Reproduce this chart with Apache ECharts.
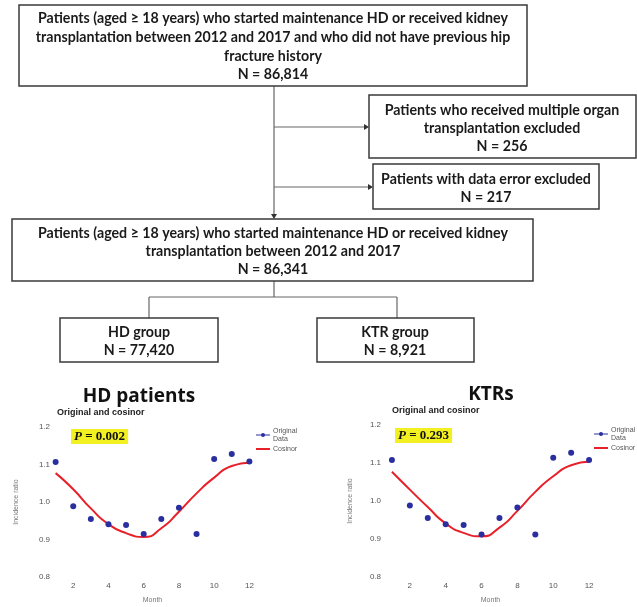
<!DOCTYPE html>
<html>
<head>
<meta charset="utf-8">
<script src="https://cdn.jsdelivr.net/npm/echarts@6/dist/echarts.min.js"></script>
<style>html,body{margin:0;padding:0;background:#fff;}#c{width:637px;height:607px;}</style>
</head>
<body>
<div id="c"></div>
<script>
// ---------- data ----------
const months = [1,2,3,4,5,6,7,8,9,10,11,12];
const xTicks = [2,4,6,8,10,12];
const yTicks = [0.8,0.9,1.0,1.1,1.2];
const hdObserved = [1.107,0.989,0.955,0.941,0.939,0.915,0.955,0.985,0.915,1.115,1.128,1.108];
const hdCosinor  = [1.077,1.034,0.983,0.941,0.917,0.907,0.930,0.974,1.023,1.065,1.096,1.105];
const ktrObserved = [1.108,0.988,0.955,0.939,0.937,0.912,0.955,0.983,0.912,1.114,1.127,1.108];
const ktrCosinor  = [1.077,1.030,0.984,0.941,0.916,0.907,0.930,0.974,1.024,1.065,1.094,1.103];
const chartTitles = ['HD patients','KTRs'];
const pValues = ['0.002','0.293'];
const flowTop = ['Patients (aged \u2265 18 years) who started maintenance HD or received kidney','transplantation between 2012 and 2017 and who did not have previous hip','fracture history','N = 86,814'];
const flowEx1 = ['Patients who received multiple organ','transplantation excluded','N = 256'];
const flowEx2 = ['Patients with data error excluded','N = 217'];
const flowMid = ['Patients (aged \u2265 18 years) who started maintenance HD or received kidney','transplantation between 2012 and 2017','N = 86,341'];
const flowHD = ['HD group','N = 77,420'];
const flowKTR = ['KTR group','N = 8,921'];

// ---------- layout helpers ----------
const FONT = 'bold 15px Lato';
const cv = document.createElement('canvas').getContext('2d');
cv.font = FONT;
const SX = 470 / cv.measureText(flowTop[0]).width;
const STROKE = '#3a3a3a';
function rect(x1,y1,x2,y2){return {type:'rect',shape:{x:x1,y:y1,width:x2-x1,height:y2-y1},style:{fill:'#fff',stroke:STROKE,lineWidth:1.5}};}
function seg(x1,y1,x2,y2){return {type:'line',shape:{x1:x1,y1:y1,x2:x2,y2:y2},style:{stroke:'#666',lineWidth:1.2}};}
function arrowDown(x,y){return {type:'polygon',shape:{points:[[x-3,y-5],[x+3,y-5],[x,y]]},style:{fill:'#333'}};}
function arrowRight(x,y){return {type:'polygon',shape:{points:[[x-5,y-3],[x-5,y+3],[x,y]]},style:{fill:'#333'}};}
function texts(arr,cx,ys){return arr.map((t,i)=>({type:'text',x:cx,y:ys[i],scaleX:SX,style:{text:t,font:FONT,fill:'#1a1a1a',textAlign:'center',textVerticalAlign:'middle',align:'center',verticalAlign:'middle'}}));}
function plain(t,x,y,font,align,color){return {type:'text',x:x,y:y,style:{text:t,font:font,fill:color||'#111',textAlign:align,textVerticalAlign:'middle',align:align,verticalAlign:'middle'}};}

const graphic = [].concat(
  [seg(274,86,274,217), arrowDown(274,219), seg(274,127,367,127), arrowRight(369,127), seg(274,187,371,187), arrowRight(373,187),
   seg(274,281,274,297), seg(149,297,397,297), seg(149,297,149,318), seg(397,297,397,318)],
  [rect(19,5,527,86)], texts(flowTop,273,[18,37,56,74]),
  [rect(369,95,636,158)], texts(flowEx1,502,[110,128,146]),
  [rect(373,164,599,209)], texts(flowEx2,486,[179,197]),
  [rect(12,219,533,281)], texts(flowMid,273,[233,251,269]),
  [rect(60,318,218,362)], texts(flowHD,139,[332,350]),
  [rect(317,318,474,362)], texts(flowKTR,395,[332,350]),
  [plain(chartTitles[0],139,397,'bold 19px "Open Sans"','center','#111'),
   plain(chartTitles[1],491,395,'bold 19px "Open Sans"','center','#111'),
   plain('Original and cosinor',57,413,'bold 9px "Liberation Sans"','left','#222'),
   plain('Original and cosinor',392,411,'bold 9px "Liberation Sans"','left','#222')]
);

function pTitle(p,left,top){return {text:'{i|P} = '+p,left:left,top:top,padding:[1,3],backgroundColor:'#f3f021',
  textStyle:{fontFamily:'Liberation Serif',fontWeight:'bold',fontSize:13,color:'#111',rich:{i:{fontStyle:'italic',fontFamily:'Liberation Serif',fontWeight:'bold',fontSize:13,color:'#111'}}}};}

function xAx(gi,nameGap){return {gridIndex:gi,type:'value',min:0,max:13,interval:2,name:'Month',nameLocation:'middle',nameGap:nameGap,
  nameTextStyle:{fontSize:7,color:'#777'},axisLine:{show:false},axisTick:{show:false},splitLine:{show:false},
  axisLabel:{margin:5,fontSize:8,color:'#555',showMaxLabel:false,formatter:v=>xTicks.indexOf(v)>=0?String(v):''}};}
function yAx(gi,offset,nameGap){return {gridIndex:gi,type:'value',min:0.8,max:1.2,interval:0.1,offset:offset,name:'Incidence ratio',nameLocation:'middle',nameRotate:90,nameGap:nameGap,
  nameTextStyle:{fontSize:7,color:'#777'},axisLine:{show:false},axisTick:{show:false},splitLine:{show:false},
  axisLabel:{margin:4,fontSize:8,color:'#555',formatter:v=>{const m=yTicks.find(t=>Math.abs(t-v)<1e-6);return m===undefined?'':m.toFixed(1);}}};}
function pts(vals){return months.map((m,i)=>[m,vals[i]]);}
const OBS='Original\nData', COS='Cosinor';
const BLUE='#2a2fa0', RED='#e8202a';
function legend(left,top){return {left:left,top:top,orient:'vertical',itemGap:2,itemWidth:14,itemHeight:5,
  textStyle:{fontSize:7,color:'#555',lineHeight:8,padding:[0,0,0,-2]},
  data:[{name:OBS,lineStyle:{color:BLUE,width:1,opacity:1}},{name:COS,itemStyle:{opacity:0}}]};}
function obsSeries(gi,vals){return {name:OBS,type:'line',xAxisIndex:gi,yAxisIndex:gi,symbol:'circle',symbolSize:6,showSymbol:true,
  data:pts(vals),lineStyle:{width:0,opacity:0},itemStyle:{color:BLUE},z:3};}
function cosSeries(gi,vals){return {name:COS,type:'line',xAxisIndex:gi,yAxisIndex:gi,smooth:0.6,symbol:'none',
  data:pts(vals),lineStyle:{color:RED,width:2},itemStyle:{color:RED},z:2};}

const option = {
  backgroundColor:'#fff',
  animation:false,
  title:[pTitle(pValues[0],71,429), pTitle(pValues[1],395,428)],
  legend:[legend(250,422), legend(588,421)],
  grid:[{left:38,top:427,width:229,height:150},{left:374,top:425,width:233,height:152}],
  xAxis:[xAx(0,20),xAx(1,20)],
  yAxis:[yAx(0,-16,34),yAx(1,-11,31)],
  series:[cosSeries(0,hdCosinor), obsSeries(0,hdObserved), cosSeries(1,ktrCosinor), obsSeries(1,ktrObserved)],
  graphic:graphic
};
const chart = echarts.init(document.getElementById('c'),null,{renderer:'canvas'});
chart.setOption(option);
</script>
</body>
</html>
